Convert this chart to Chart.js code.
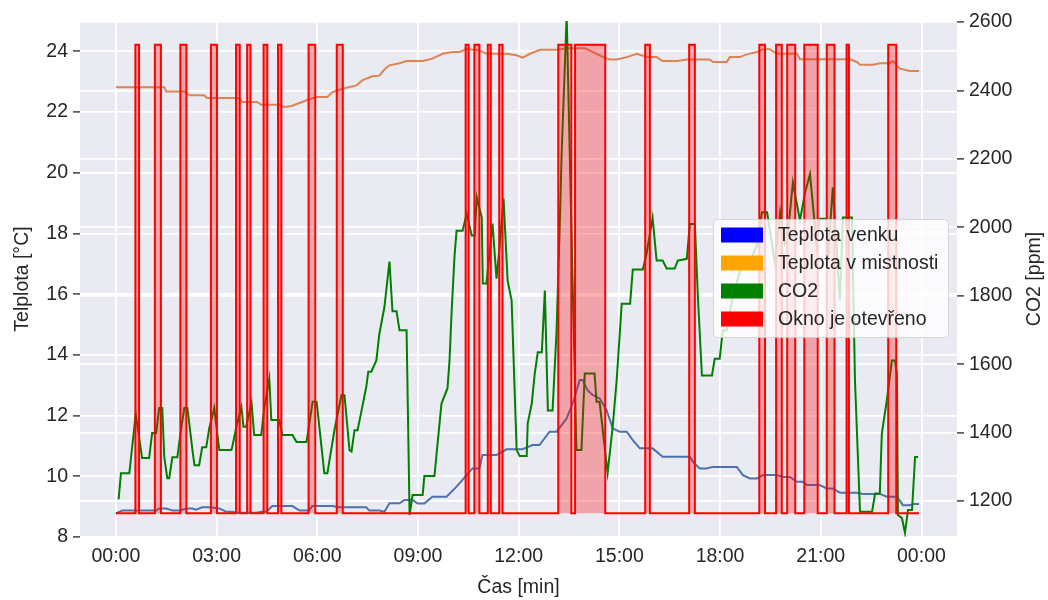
<!DOCTYPE html>
<html>
<head>
<meta charset="utf-8">
<script src="https://cdn.jsdelivr.net/npm/chart.js@4.4.0/dist/chart.umd.min.js"></script>
<style>
  body { margin: 0; background: #fff; }
  #wrap { width: 1048px; height: 600px; }
</style>
</head>
<body>
<div id="wrap"><canvas id="roomChart" width="1048" height="600"></canvas></div>
<script>
// time is in hours from midnight
const seriesNames = ['Teplota venku', 'Teplota v mistnosti', 'CO2', 'Okno je otevřeno'];

const outsideTime = [0, 0.19, 1.2, 1.29, 1.5, 1.68, 1.89, 2.1, 2.28, 2.39, 2.57, 2.78, 3.08, 3.29, 3.47, 3.59, 4.19, 4.33, 4.48, 4.66,
  5.26, 5.47, 5.76, 5.85, 6.45, 6.66, 7.46, 7.55, 7.85, 8.0, 8.15, 8.45, 8.6, 8.84, 8.99, 9.19, 9.43, 9.85, 10.15, 10.45,
  10.62, 10.83, 10.92, 11.34, 11.64, 12.12, 12.41, 12.62, 12.92, 13.13, 13.43, 13.61, 13.82, 13.91, 14.05, 14.2, 14.41, 14.62, 14.8, 15.01,
  15.22, 15.4, 15.61, 15.99, 16.29, 17.1, 17.19, 17.39, 17.6, 17.78, 18.5, 18.68, 18.89, 19.1, 19.28, 19.69, 19.87, 20.08, 20.29, 20.47,
  20.59, 20.97, 21.18, 21.36, 21.57, 22.08, 22.26, 22.76, 22.97, 23.27, 23.45, 23.66, 23.75, 23.93];
const outsideTemp = [8.78, 8.87, 8.87, 8.94, 8.94, 8.87, 8.87, 8.94, 8.94, 8.9, 8.98, 8.98, 8.94, 8.83, 8.83, 8.8, 8.8, 8.83, 8.83, 9.02,
  9.02, 8.87, 8.87, 9.02, 9.02, 8.98, 8.98, 8.87, 8.87, 8.83, 9.11, 9.11, 9.22, 9.22, 9.1, 9.1, 9.33, 9.33, 9.66, 10.04,
  10.26, 10.26, 10.7, 10.7, 10.89, 10.89, 11.03, 11.03, 11.47, 11.47, 11.91, 12.4, 13.17, 13.17, 12.84, 12.68, 12.57, 12.18, 11.58, 11.47,
  11.47, 11.19, 10.92, 10.92, 10.64, 10.64, 10.48, 10.26, 10.26, 10.31, 10.31, 10.04, 9.93, 9.93, 10.04, 10.04, 9.98, 9.98, 9.82, 9.82,
  9.71, 9.71, 9.6, 9.6, 9.46, 9.46, 9.42, 9.42, 9.33, 9.33, 9.05, 9.05, 9.09, 9.09];

const roomTime = [0, 1.44, 1.5, 2.04, 2.19, 2.63, 2.72, 3.68, 3.77, 4.21, 4.33, 4.87, 5.02, 5.23, 5.47, 5.68, 5.97, 6.3, 6.45, 6.75,
  7.17, 7.35, 7.64, 7.85, 8.0, 8.15, 8.45, 8.66, 9.14, 9.43, 9.73, 10.03, 10.24, 10.45, 10.84, 11.04, 11.64, 11.94, 12.12, 12.34,
  12.64, 13.13, 13.43, 13.97, 14.11, 14.41, 14.71, 14.92, 15.22, 15.52, 15.82, 16.11, 16.29, 16.71, 17.01, 17.69, 17.79, 18.2, 18.29, 18.59,
  18.8, 19.1, 19.28, 19.48, 19.69, 20.29, 20.38, 21.87, 22.08, 22.17, 22.56, 22.77, 23.06, 23.15, 23.36, 23.66, 23.93];
const roomTemp = [22.82, 22.82, 22.68, 22.68, 22.55, 22.55, 22.46, 22.46, 22.33, 22.33, 22.24, 22.24, 22.17, 22.2, 22.3, 22.39, 22.5, 22.5, 22.66, 22.77,
  22.88, 23.05, 23.18, 23.2, 23.4, 23.54, 23.61, 23.68, 23.68, 23.76, 23.92, 23.98, 23.98, 24.08, 24.03, 23.92, 23.92, 23.87, 23.79, 23.92,
  24.05, 24.05, 24.1, 24.1, 24.03, 23.87, 23.73, 23.73, 23.81, 23.92, 23.81, 23.81, 23.68, 23.68, 23.73, 23.73, 23.65, 23.65, 23.81, 23.81,
  23.9, 23.98, 24.07, 24.07, 23.92, 23.92, 23.74, 23.74, 23.65, 23.56, 23.56, 23.61, 23.61, 23.68, 23.43, 23.35, 23.35];

const co2Time = [0.08, 0.15, 0.4, 0.59, 0.78, 0.99, 1.08, 1.2, 1.29, 1.38, 1.44, 1.53, 1.59, 1.68, 1.83, 1.95, 2.04, 2.13, 2.28, 2.34,
  2.48, 2.57, 2.69, 2.78, 2.93, 3.08, 3.44, 3.47, 3.59, 3.74, 3.8, 3.88, 4.04, 4.12, 4.33, 4.42, 4.57, 4.63, 4.87, 4.96,
  5.26, 5.38, 5.68, 5.86, 5.98, 6.21, 6.3, 6.51, 6.72, 6.81, 6.96, 7.02, 7.11, 7.2, 7.32, 7.46, 7.52, 7.61, 7.76, 7.85,
  8.0, 8.15, 8.24, 8.36, 8.45, 8.66, 8.75, 8.84, 9.14, 9.19, 9.49, 9.7, 9.88, 9.94, 10.0, 10.09, 10.15, 10.33, 10.45, 10.6,
  10.69, 10.75, 10.9, 10.93, 11.04, 11.22, 11.34, 11.43, 11.55, 11.67, 11.79, 11.94, 12.03, 12.24, 12.27, 12.39, 12.48, 12.57, 12.69, 12.78,
  12.87, 13.01, 13.13, 13.22, 13.28, 13.43, 13.72, 13.87, 13.97, 14.26, 14.32, 14.41, 14.65, 14.8, 14.92, 15.07, 15.32, 15.4, 15.7, 15.81,
  15.99, 16.11, 16.29, 16.41, 16.65, 16.74, 17.01, 17.1, 17.25, 17.34, 17.46, 17.76, 17.84, 17.99, 18.08, 18.2, 18.38, 18.59, 18.89, 19.1,
  19.25, 19.4, 19.64, 19.79, 19.93, 20.0, 20.17, 20.38, 20.53, 20.68, 20.88, 20.97, 21.18, 21.21, 21.36, 21.57, 21.66, 21.93, 22.02, 22.17,
  22.53, 22.62, 22.76, 22.82, 22.97, 23.12, 23.21, 23.27, 23.3, 23.42, 23.51, 23.6, 23.72, 23.81, 23.9];
const co2Value = [1205, 1281, 1281, 1454, 1326, 1326, 1399, 1399, 1472, 1472, 1330, 1267, 1267, 1328, 1328, 1417, 1472, 1472, 1349, 1305,
  1305, 1357, 1357, 1412, 1472, 1349, 1349, 1360, 1417, 1475, 1417, 1417, 1487, 1393, 1393, 1472, 1558, 1437, 1437, 1393,
  1393, 1373, 1373, 1490, 1490, 1281, 1281, 1407, 1509, 1509, 1349, 1345, 1407, 1407, 1465, 1534, 1578, 1578, 1611, 1689,
  1767, 1900, 1755, 1755, 1699, 1699, 1159, 1218, 1218, 1273, 1273, 1485, 1530, 1611, 1748, 1918, 1990, 1990, 2040, 1976,
  1976, 2088, 2029, 1836, 1836, 2011, 1850, 1942, 2084, 1845, 1786, 1349, 1332, 1332, 1427, 1485, 1573, 1635, 1635, 1815,
  1465, 1465, 1699, 1990, 2215, 2620, 1349, 1349, 1573, 1573, 1490, 1490, 1282, 1417, 1553, 1777, 1777, 1877, 1877, 1923,
  2028, 1903, 1903, 1880, 1880, 1903, 1908, 2010, 2010, 1796, 1567, 1567, 1616, 1616, 1699, 1699, 1800, 1870, 1900, 1947,
  2044, 2044, 1894, 2044, 1950, 1960, 2131, 2020, 2100, 2156, 1947, 2025, 2025, 1903, 2117, 1786, 2029, 2029, 1553, 1169,
  1169, 1222, 1222, 1397, 1495, 1611, 1611, 1573, 1159, 1150, 1107, 1174, 1174, 1329, 1329];

// window opened / closed again (hours)
const windowOpen  = [0.58, 1.16, 1.92, 2.83, 3.58, 3.91, 4.4, 4.83, 5.74, 6.58, 10.42, 10.68, 11.08, 11.42, 13.18, 13.68, 15.77, 17.08, 19.17, 19.67, 20.0, 20.51, 21.18, 21.77, 23.01];
const windowClose = [0.69, 1.34, 2.1, 3.01, 3.69, 4.01, 4.51, 4.93, 5.94, 6.76, 10.51, 10.83, 11.17, 11.52, 13.57, 14.58, 15.91, 17.25, 19.34, 19.84, 20.24, 20.91, 21.41, 21.84, 23.25];
const windowLevel = { closed: 8.78, open: 24.22 };
const dayStart = 0, dayEnd = 23.93;

const tempTicks = [8, 10, 12, 14, 16, 18, 20, 22, 24];
const co2Ticks = [1200, 1400, 1600, 1800, 2000, 2200, 2400, 2600];
const timeTicks = [0, 3, 6, 9, 12, 15, 18, 21, 24];
const timeTickLabels = ['00:00', '03:00', '06:00', '09:00', '12:00', '15:00', '18:00', '21:00', '00:00'];

const toPoints = (xs, ys) => xs.map((x, i) => ({ x: x, y: ys[i] }));

const windowPoints = [{ x: dayStart, y: windowLevel.closed }];
windowOpen.forEach((t, i) => {
  windowPoints.push({ x: t, y: windowLevel.open });
  windowPoints.push({ x: windowClose[i], y: windowLevel.closed });
});
windowPoints.push({ x: dayEnd, y: windowLevel.closed });

const FONT = "'Liberation Sans', Arial, sans-serif";
const TEXT = '#262626';
const FS = 19.5;

const plotBackground = {
  id: 'plotBackground',
  beforeDraw(chart) {
    const { ctx, chartArea: a } = chart;
    ctx.save();
    ctx.fillStyle = '#fff';
    ctx.fillRect(0, 0, chart.width, chart.height);
    ctx.fillStyle = '#EAEAF2';
    ctx.fillRect(a.left, a.top, a.width, a.height);
    ctx.restore();
  }
};

// right axis title reads bottom-to-top like matplotlib
const rightTitle = {
  id: 'rightTitle',
  afterDraw(chart) {
    const { ctx, chartArea: a } = chart;
    ctx.save();
    ctx.translate(1035, (a.top + a.bottom) / 2);
    ctx.rotate(-Math.PI / 2);
    ctx.fillStyle = TEXT;
    ctx.font = FS + 'px ' + FONT;
    ctx.textAlign = 'center';
    ctx.textBaseline = 'middle';
    ctx.fillText('CO2 [ppm]', 0, 0);
    ctx.restore();
  }
};

const boxLegend = {
  id: 'boxLegend',
  afterDraw(chart) {
    const ctx = chart.ctx;
    const colors = ['#0000FF', '#FFA500', '#008000', '#FF0000'];
    const x = 713.5, y = 219.5, w = 235, h = 118, r = 4;
    ctx.save();
    ctx.beginPath();
    ctx.roundRect(x, y, w, h, r);
    ctx.fillStyle = 'rgba(255,255,255,0.8)';
    ctx.fill();
    ctx.strokeStyle = 'rgba(204,204,204,0.8)';
    ctx.lineWidth = 1;
    ctx.stroke();
    ctx.font = FS + 'px ' + FONT;
    ctx.textBaseline = 'middle';
    seriesNames.forEach((name, i) => {
      ctx.fillStyle = colors[i];
      ctx.fillRect(721, 227.5 + i * 28, 42, 15);
      ctx.fillStyle = TEXT;
      ctx.fillText(name, 778, 235.5 + i * 28);
    });
    ctx.restore();
  }
};

const ctx1 = document.getElementById('roomChart').getContext('2d');
const roomChart = new Chart(ctx1, {
  type: 'line',
  data: {
    datasets: [{
      label: seriesNames[0],
      data: toPoints(outsideTime, outsideTemp),
      borderColor: '#4C72B0',
      borderWidth: 2,
      yAxisID: 'y',
      order: 4
    }, {
      label: seriesNames[1],
      data: toPoints(roomTime, roomTemp),
      borderColor: '#DD8452',
      borderWidth: 2,
      yAxisID: 'y',
      order: 3
    }, {
      label: seriesNames[2],
      data: toPoints(co2Time, co2Value),
      borderColor: '#008000',
      borderWidth: 2,
      yAxisID: 'y1',
      order: 2
    }, {
      label: seriesNames[3],
      data: windowPoints,
      borderColor: '#FF0000',
      backgroundColor: 'rgba(255,0,0,0.3)',
      borderWidth: 2,
      stepped: true,
      fill: { value: windowLevel.closed },
      yAxisID: 'y',
      order: 1
    }]
  },
  options: {
    responsive: false,
    animation: false,
    parsing: false,
    elements: { point: { radius: 0 }, line: { tension: 0 } },
    layout: { padding: { top: 21, left: 0, right: 0, bottom: 0 } },
    plugins: {
      legend: { display: false },
      tooltip: { enabled: false }
    },
    scales: {
      x: {
        type: 'linear',
        min: -1.07,
        max: 25.06,
        afterBuildTicks: (s) => { s.ticks = timeTicks.map(v => ({ value: v })); },
        afterFit: (s) => { s.height = 63; },
        grid: { color: '#fff', lineWidth: 1.8, drawTicks: false },
        border: { display: false },
        ticks: {
          color: TEXT, padding: 8, maxRotation: 0,
          font: { family: FONT, size: FS },
          callback: (v, i) => timeTickLabels[i]
        },
        title: { display: true, text: 'Čas [min]', color: TEXT, padding: { top: 0, bottom: 1 }, font: { family: FONT, size: FS } }
      },
      y: {
        position: 'left',
        min: 8,
        max: 25,
        afterBuildTicks: (s) => { s.ticks = tempTicks.map(v => ({ value: v })); },
        afterFit: (s) => { s.width = 80; },
        grid: { color: '#fff', lineWidth: 1.8, tickColor: TEXT, tickLength: 7, tickWidth: 1.3 },
        border: { display: false },
        ticks: { color: TEXT, padding: 5, font: { family: FONT, size: FS }, callback: (v) => String(v) },
        title: { display: true, text: 'Telplota [°C]', color: TEXT, padding: { top: 11, bottom: 0 }, font: { family: FONT, size: FS } }
      },
      y1: {
        position: 'right',
        min: 1095,
        max: 2603,
        afterBuildTicks: (s) => { s.ticks = co2Ticks.map(v => ({ value: v })); },
        afterFit: (s) => { s.width = 91; },
        grid: { color: '#fff', lineWidth: 1.8, tickColor: TEXT, tickLength: 7, tickWidth: 1.3 },
        border: { display: false },
        ticks: { color: TEXT, padding: 5, font: { family: FONT, size: FS }, callback: (v) => String(v) }
      }
    }
  },
  plugins: [plotBackground, rightTitle, boxLegend]
});
</script>
</body>
</html>
